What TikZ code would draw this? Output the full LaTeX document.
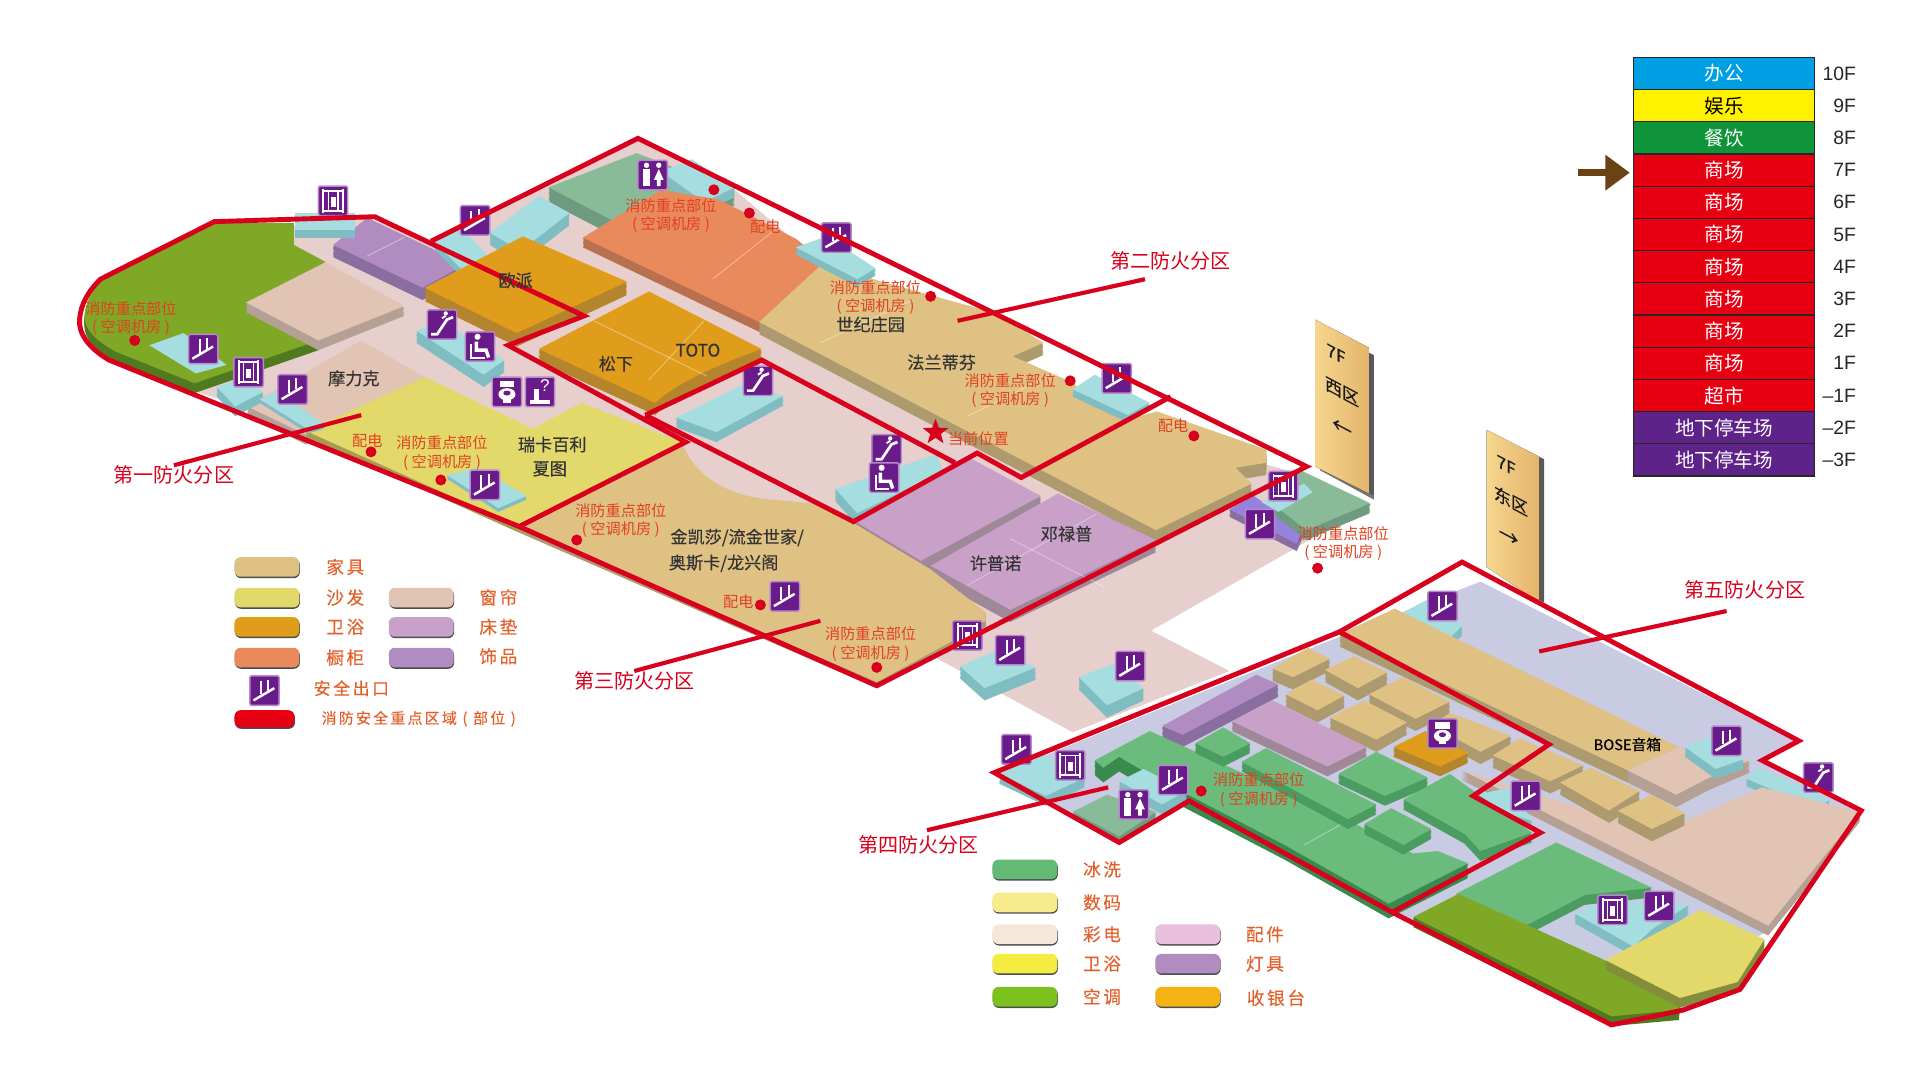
\documentclass[tikz,border=0pt]{standalone}
\usepackage{fontspec}
\setmainfont{Liberation Sans}
\newfontfamily\cjk{Noto Sans CJK SC}
\newfontfamily\cjkbold[FakeBold=0.35]{Noto Sans CJK SC}
\newfontfamily\cjkwide[LetterSpace=15,FakeBold=0.2]{Noto Sans CJK SC}
\usetikzlibrary{shadows,shapes.geometric,arrows.meta}

\definecolor{firered}{HTML}{D8001C}
\definecolor{fireorange}{HTML}{E2401F}
\definecolor{legendorange}{HTML}{E4602B}
\definecolor{floorpink}{HTML}{E7CFCD}
\definecolor{lavender}{HTML}{C9CBE3}
\definecolor{tanwood}{HTML}{E0C184}
\definecolor{tanside}{HTML}{AD9A6F}
\definecolor{sofa}{HTML}{E3D96B}
\definecolor{sofaside}{HTML}{A69B50}
\definecolor{bathorange}{HTML}{E09D1C}
\definecolor{bathside}{HTML}{B5852E}
\definecolor{salmon}{HTML}{E88A5C}
\definecolor{salmonside}{HTML}{B8704F}
\definecolor{pale}{HTML}{E2C4B5}
\definecolor{paleside}{HTML}{B5A095}
\definecolor{mattress}{HTML}{C8A0C8}
\definecolor{matside}{HTML}{9F8898}
\definecolor{ornament}{HTML}{B08CC0}
\definecolor{ornside}{HTML}{8A6EA0}
\definecolor{olive}{HTML}{7FA826}
\definecolor{oliveside}{HTML}{4F7A20}
\definecolor{icecyan}{HTML}{A6DDE0}
\definecolor{cyanside}{HTML}{7FBDC2}
\definecolor{mint}{HTML}{8ABB99}
\definecolor{mintside}{HTML}{6E9B80}
\definecolor{leaf}{HTML}{6ABB7C}
\definecolor{leafside}{HTML}{4A9C60}
\definecolor{leafdark}{HTML}{3A8A50}
\definecolor{iconpurple}{HTML}{6A1B8A}
\definecolor{iconedge}{HTML}{B58AC9}
\definecolor{boardlight}{HTML}{F6D68E}
\definecolor{boarddark}{HTML}{E4B46C}
\definecolor{floorblue}{HTML}{009FE3}
\definecolor{flooryellow}{HTML}{FFF100}
\definecolor{floorgreen}{HTML}{109439}
\definecolor{floorred}{HTML}{E60012}
\definecolor{floorviolet}{HTML}{5E2388}
\definecolor{markerbrown}{HTML}{6B4213}
\definecolor{legwashc}{HTML}{62BA75}
\definecolor{legdigic}{HTML}{F8EB8E}
\definecolor{legtvc}{HTML}{F6E7DB}
\definecolor{legbathc}{HTML}{F4EC40}
\definecolor{legairc}{HTML}{7DC11F}
\definecolor{legpartc}{HTML}{E8BFDC}
\definecolor{legcashc}{HTML}{F4B213}

\tikzset{
  zoneline/.style={draw=firered, line width=2pt, line join=miter},
  leader/.style={draw=firered, line width=1.7pt},
  zonename/.style={font=\cjk\fontsize{8.2}{9}\selectfont, text=firered, inner sep=0pt},
  firelabel/.style={font=\cjk\fontsize{6.2}{7.6}\selectfont, text=fireorange, align=center, inner sep=0pt},
  firedot/.style={circle, fill=firered, minimum size=4.5pt, inner sep=0pt},
  shopname/.style={font=\cjkbold\fontsize{7}{8}\selectfont, text=black!80, inner sep=0pt},
  floorcell/.style={draw=black!85, line width=0.5pt, minimum width=74pt, minimum height=13.15pt,
    inner sep=0pt, font=\cjk\fontsize{8}{9}\selectfont, text=white},
  floorname/.style={anchor=east, inner sep=0pt, font=\fontsize{7.9}{9}\selectfont, text=black!85},
  swatch/.style={rounded corners=2.5pt, minimum width=26.5pt, minimum height=8pt, inner sep=0pt,
    drop shadow={shadow xshift=0.2pt, shadow yshift=-0.6pt, opacity=0.7, fill=black}},
  legendtext/.style={font=\cjkwide\fontsize{7.2}{8}\selectfont, text=legendorange, inner sep=0pt},
  iconbox/.style={draw=iconedge, fill=iconpurple, line width=0.6pt, minimum size=12pt, inner sep=0pt, rounded corners=0.6pt},
  glyph/.style={draw=white, line width=0.8pt},
  divider/.style={draw=white, opacity=0.4, line width=0.35pt},
  signtext/.style={transform shape, font=\cjkbold\fontsize{7}{8}\selectfont, text=black!90, inner sep=0pt},
  signarrow/.style={signtext, font=\cjkbold\fontsize{8}{8}\selectfont}
}

% one block of the floor plan: height, side colour, top colour, outline
\newcommand{\slab}[4]{%
  \foreach \d in {#1,...,1}{\fill[#2, shift={(0,\d)}] #4;}
  \fill[#3] #4;
}
\newcommand{\exitsign}[2]{%
  \node[iconbox] (#1) at (#2) {};
  \begin{scope}[shift={(#2)}]
    \draw[glyph, line width=1pt] (-9,8) -- (8,-2);
    \draw[glyph] (-3,3) -- (-3,-8);
    \draw[glyph] (3,0) -- (3,-9);
  \end{scope}
}
\newcommand{\liftsign}[2]{%
  \node[iconbox] (#1) at (#2) {};
  \begin{scope}[shift={(#2)}]
    \draw[glyph] (-8,-10) -- (-8,10);
    \draw[glyph] (8,-10) -- (8,10);
    \draw[glyph] (-8,-8) -- (8,-8);
    \draw[glyph] (-8,8) -- (8,8);
    \draw[glyph, line width=0.5pt] (-4,-8) -- (-4,8);
    \draw[glyph, line width=0.5pt] (4,-8) -- (4,8);
    \fill[white] (-2,-3) rectangle (2,5);
  \end{scope}
}
\newcommand{\escsign}[2]{%
  \node[iconbox] (#1) at (#2) {};
  \begin{scope}[shift={(#2)}]
    \draw[glyph, line width=1.1pt] (-9,8) -- (-4,8) -- (4,-4) -- (9,-6);
    \fill[white] (3,-9) circle (1.8);
    \draw[glyph] (0,-5) -- (3,-7);
  \end{scope}
}
\newcommand{\restsign}[2]{%
  \node[iconbox] (#1) at (#2) {};
  \begin{scope}[shift={(#2)}]
    \fill[white] (-5,-8) circle (2.2);
    \fill[white] (5,-8) circle (2.2);
    \fill[white] (-8,-5) rectangle (-2,9);
    \fill[white] (5,-5) -- (9,4) -- (6.5,4) -- (6.5,9) -- (3.5,9) -- (3.5,4) -- (1,4) -- cycle;
  \end{scope}
}
\newcommand{\chairsign}[2]{%
  \node[iconbox] (#1) at (#2) {};
  \begin{scope}[shift={(#2)}]
    \fill[white] (-2,-8) circle (2.5);
    \draw[glyph, line width=1.4pt] (-3,-4) -- (-3,3) -- (5,3) -- (7,9);
    \draw[glyph] (-7,-2) -- (-7,9) -- (4,9);
  \end{scope}
}
\newcommand{\toiletsign}[2]{%
  \node[iconbox] (#1) at (#2) {};
  \begin{scope}[shift={(#2)}]
    \fill[white] (-6,-9) rectangle (6,-4);
    \fill[white] (0,2) ellipse (7 and 5);
    \fill[iconpurple] (0,1) ellipse (3 and 2);
    \fill[white] (-3,6) rectangle (3,9);
  \end{scope}
}

\begin{document}
\begin{tikzpicture}[x=0.5pt, y=-0.5pt]
  \useasboundingbox (0,0) rectangle (1568,882);
  \fill[white] (0,0) rectangle (1568,882);

  % Direction boards behind the floors
  \fill[black!65] (1118,288) -- (1122,290) -- (1122,405) -- (1118,403) -- cycle;
  \fill[black!55] (1078,381) -- (1122,405) -- (1122,408) -- (1078,384) -- cycle;
  \fill[left color=boardlight, right color=boarddark] (1074,261) -- (1118,284) -- (1118,403) -- (1074,381) -- cycle;
  \fill[black!65] (1257,373) -- (1261,375) -- (1261,492) -- (1257,490) -- cycle;
  \fill[left color=boardlight, right color=boarddark] (1214,351) -- (1257,373) -- (1257,492) -- (1214,463) -- cycle;

  % West building floor
  \fill[floorpink] (240,185) -- (300,178) -- (352,197) -- (521,115) -- (600,155) -- (700,240) -- (900,345) -- (1000,370) -- (1065,388)
    -- (1120,412) -- (940,515) -- (1004,548) -- (876,598) -- (764,537) -- (716,560) -- (424,430) -- (210,335) -- (160,320) -- (240,250) -- cycle;

  % West building, first zone
  \slab{8}{oliveside}{olive}{(84,228) -- (175,182) -- (240,182) -- (240,200) -- (266,214) -- (201,247) -- (260,278) -- (159,313) -- (94,287) .. controls (77,277) and (69,269) .. (69,258) .. controls (70,246) and (75,237) .. (84,228) -- cycle}
  \slab{8}{paleside}{pale}{(266,214) -- (330,250) -- (260,278) -- (201,247) -- cycle}
  \slab{10}{ornside}{ornament}{(272,200) -- (300,178) -- (380,216) -- (345,235) -- cycle}
  \draw[divider] (300,209) -- (330,194);
  \slab{6}{cyanside}{icecyan}{(241,174) -- (290,174) -- (290,188) -- (241,188) -- cycle}
  \slab{8}{paleside}{pale}{(202,332) -- (295,278) -- (347,308) -- (250,355) -- cycle}
  \slab{5}{sofaside}{sofa}{(424,430) -- (557,361) -- (475,329) -- (435,350) -- (347,308) -- (250,352) -- cycle}
  \fill[icecyan] (122,282) -- (150,272) -- (185,298) -- (160,305) -- cycle;
  \slab{8}{cyanside}{icecyan}{(177,316) -- (197,309) -- (215,320) -- (192,332) -- cycle}
  \slab{3}{cyanside}{icecyan}{(212,326) -- (227,319) -- (265,347) -- (252,351) -- cycle}
  \slab{3}{cyanside}{icecyan}{(365,388) -- (390,382) -- (430,405) -- (407,415) -- cycle}

  % West building, second zone
  \slab{12}{mintside}{mint}{(448,153) -- (520,125) -- (600,156) -- (500,180) -- cycle}
  \slab{8}{cyanside}{icecyan}{(540,140) -- (565,130) -- (600,153) -- (575,165) -- cycle}
  \slab{10}{cyanside}{icecyan}{(400,190) -- (440,160) -- (465,174) -- (425,205) -- cycle}
  \slab{6}{cyanside}{icecyan}{(355,198) -- (375,185) -- (405,215) -- (385,228) -- cycle}
  \slab{8}{salmonside}{salmon}{(476,194) -- (540,155) -- (587,163) -- (650,195) -- (675,215) -- (620,263) -- cycle}
  \draw[divider] (582,228) -- (645,178);
  \slab{10}{tanside}{tanwood}{(620,263) -- (672,215) -- (720,230) -- (814,256) -- (852,280) -- (827,291) -- (875,312) -- (915,342) -- (930,340) -- (945,336) -- (1034,367) -- (1034,378) -- (1009,382) -- (1022,395) -- (944,433) -- cycle}
  \draw[divider] (670,280) -- (745,245);
  \draw[divider] (790,340) -- (860,305);
  \slab{6}{cyanside}{icecyan}{(650,202) -- (675,193) -- (715,219) -- (700,228) -- cycle}
  \slab{6}{cyanside}{icecyan}{(876,318) -- (894,306) -- (939,329) -- (921,339) -- cycle}
  \slab{11}{bathside}{bathorange}{(347,235) -- (427,193) -- (512,230) -- (422,272) -- cycle}
  \slab{10}{bathside}{bathorange}{(440,285) -- (530,238) -- (622,285) .. controls (580,300) and (550,315) .. (535,329) -- cycle}
  \draw[divider] (485,262) -- (577,307);
  \draw[divider] (530,310) -- (575,262);

  % Centre of the west building
  \slab{10}{cyanside}{icecyan}{(340,270) -- (360,262) -- (412,294) -- (395,306) -- cycle}
  \slab{8}{cyanside}{icecyan}{(552,341) -- (605,315) -- (640,323) -- (585,353) -- cycle}
  \slab{10}{cyanside}{icecyan}{(682,399) -- (765,371) -- (770,385) -- (700,419) -- cycle}
  \slab{14}{matside}{mattress}{(697,425) -- (790,373) -- (850,405) -- (752,458) -- cycle}
  \slab{10}{matside}{mattress}{(760,462) -- (864,403) -- (944,441) -- (825,498) -- cycle}
  \draw[divider] (790,478) -- (895,420);
  \draw[divider] (825,440) -- (903,480);

  % West building, third zone and the far end
  \slab{5}{tanside}{tanwood}{(424,430) -- (557,361) .. controls (565,385) and (590,405) .. (630,408) -- (672,412) -- (760,465) -- (805,500) -- (805,507) -- (775,525) -- (716,557) -- cycle}
  \slab{6}{ornside}{ornament!70!blue!80}{(1004,416) -- (1024,405) -- (1064,433) -- (1059,444) -- cycle}
  \slab{8}{mintside}{mint}{(1062,384) -- (1119,411) -- (1067,433) -- (1040,412) -- cycle}
  \fill[icecyan] (1030,410) -- (1065,395) -- (1072,402) -- (1044,418) -- cycle;
  \slab{10}{cyanside}{icecyan}{(784,544) -- (814,531) -- (846,545) -- (804,562) -- cycle}
  \slab{10}{cyanside}{icecyan}{(881,553) -- (909,542) -- (934,562) -- (904,576) -- cycle}

  % East building floor
  \fill[lavender] (1094,520) -- (1209,475) -- (1469,606) -- (1439,621) -- (1516,662) -- (1444,760) -- (1316,835) -- (1137,745) -- (971,656) -- (914,686) -- (816,632) -- cycle;

  % East building, fifth zone
  \slab{8}{cyanside}{icecyan}{(1144,501) -- (1171,487) -- (1194,511) -- (1184,521) -- cycle}
  \slab{10}{tanside}{tanwood}{(1094,518) -- (1139,497) -- (1371,610) -- (1329,629) -- cycle}
  \slab{10}{paleside}{pale}{(1329,629) -- (1371,610) -- (1429,621) -- (1396,635) -- (1369,649) -- cycle}
  \slab{8}{cyanside}{icecyan}{(1376,610) -- (1399,601) -- (1424,620) -- (1401,628) -- cycle}
  \slab{6}{cyanside}{icecyan}{(1426,636) -- (1436,627) -- (1494,653) -- (1484,660) -- cycle}
  \slab{8}{paleside}{pale}{(1194,629) -- (1354,680) -- (1439,643) -- (1519,663) -- (1444,756) -- cycle}
  \slab{6}{cyanside}{icecyan}{(1206,649) -- (1234,643) -- (1251,670) -- (1228,664) -- cycle}
  \slab{8}{leafside}{leaf}{(1189,730) -- (1271,688) -- (1349,725) -- (1294,731) -- (1246,756) -- cycle}
  \slab{8}{cyanside}{icecyan}{(1286,746) -- (1309,736) -- (1379,739) -- (1349,759) -- (1334,773) -- cycle}
  \slab{8}{oliveside}{olive}{(1154,749) -- (1191,730) -- (1372,812) -- (1371,825) -- (1316,830) -- cycle}
  \slab{8}{oliveside!40!sofaside}{sofa}{(1311,784) -- (1389,743) -- (1441,767) -- (1419,802) -- (1372,815) -- cycle}

  % East building, fourth zone
  \slab{10}{tanside}{tanwood}{(1039,546) -- (1068,529) -- (1086,538) -- (1056,553) -- cycle}
  \slab{10}{tanside}{tanwood}{(1082,547) -- (1106,536) -- (1133,549) -- (1109,562) -- cycle}
  \slab{10}{tanside}{tanwood}{(1050,567) -- (1071,555) -- (1098,568) -- (1076,580) -- cycle}
  \slab{10}{tanside}{tanwood}{(1118,567) -- (1146,553) -- (1184,573) -- (1156,587) -- cycle}
  \slab{10}{tanside}{tanwood}{(1086,586) -- (1114,572) -- (1149,590) -- (1124,604) -- cycle}
  \slab{10}{tanside}{tanwood}{(1171,593) -- (1184,582) -- (1234,601) -- (1209,614) -- cycle}
  \slab{10}{tanside}{tanwood}{(1219,617) -- (1241,603) -- (1293,625) -- (1266,638) -- cycle}
  \slab{10}{tanside}{tanwood}{(1274,639) -- (1299,627) -- (1339,646) -- (1314,662) -- cycle}
  \slab{10}{tanside}{tanwood}{(1321,662) -- (1349,649) -- (1376,664) -- (1349,677) -- cycle}
  \slab{10}{ornside}{ornament}{(949,593) -- (1026,551) -- (1044,559) -- (966,600) -- cycle}
  \slab{8}{matside}{mattress}{(1006,589) -- (1039,572) -- (1116,610) -- (1084,626) -- cycle}
  \slab{8}{bathside}{bathorange}{(1138,610) -- (1164,597) -- (1199,615) -- (1176,626) -- cycle}
  \slab{8}{cyanside}{icecyan}{(816,632) -- (849,614) -- (886,635) -- (854,650) -- cycle}
  \slab{12}{leafdark}{leaf}{(894,621) -- (939,597) -- (1109,674) -- (1154,697) -- (1174,695) -- (1199,705) -- (1134,738) -- (1049,690) -- (974,651) -- (949,638) -- (924,624) -- (914,618) -- (901,627) -- cycle}
  \draw[divider] (1065,690) -- (1110,665);
  \slab{8}{leafside}{leaf}{(976,607) -- (999,594) -- (1021,607) -- (999,618) -- cycle}
  \slab{8}{leafside}{leaf}{(1014,622) -- (1034,611) -- (1124,657) -- (1101,669) -- cycle}
  \slab{8}{leafside}{leaf}{(1093,632) -- (1124,614) -- (1166,635) -- (1131,650) -- cycle}
  \slab{8}{leafside}{leaf}{(1114,673) -- (1136,660) -- (1169,677) -- (1146,690) -- cycle}
  \slab{8}{leafside}{leaf}{(1146,653) -- (1184,632) -- (1251,680) -- (1209,695) -- (1196,681) -- cycle}
  \slab{8}{cyanside}{icecyan}{(914,638) -- (934,628) -- (969,646) -- (949,657) -- cycle}
  \slab{6}{mintside}{mint}{(876,663) -- (904,649) -- (944,663) -- (914,683) -- cycle}

  % Safety signs
  \exitsign{exita}{166,285}
  \exitsign{exitb}{239,318}
  \exitsign{exitc}{396,396}
  \exitsign{exitd}{388,180}
  \exitsign{exite}{683,194}
  \exitsign{exitf}{912,309}
  \exitsign{exitg}{641,487}
  \exitsign{exith}{825,531}
  \exitsign{exiti}{923,544}
  \exitsign{exitj}{1029,428}
  \exitsign{exitk}{830,612}
  \exitsign{exitl}{958,637}
  \exitsign{exitm}{1178,495}
  \exitsign{exitn}{1410,605}
  \exitsign{exito}{1246,650}
  \exitsign{exitp}{1355,740}
  \liftsign{lifta}{272,164}
  \liftsign{liftb}{203,304}
  \liftsign{liftc}{1048,397}
  \liftsign{liftd}{790,519}
  \liftsign{lifte}{874,625}
  \liftsign{liftf}{1317,743}
  \escsign{esca}{361,265}
  \escsign{escb}{619,311}
  \escsign{escc}{724,367}
  \escsign{escd}{1485,635}
  \restsign{resta}{533,143}
  \restsign{restb}{926,657}
  \chairsign{chaira}{392,283}
  \chairsign{chairb}{722,390}
  \toiletsign{toileta}{414,320}
  \toiletsign{toiletb}{1178,599}
  \node[iconbox] (infodesk) at (441,320) {};
  \node[font=\fontsize{7}{8}\selectfont, text=white, inner sep=0pt] (infomark) at (445,315) {?};
  \fill[white] (433,327) rectangle (449,330);
  \fill[white] (436,318) rectangle (440,327);

  % Fire zone boundaries
  \draw[zoneline] (175,181) -- (306,177) -- (477,258) -- (415,282) -- (560,361) -- (424,430) -- (89,294) .. controls (72,284) and (64,272) .. (65,261) .. controls (66,248) and (72,238) .. (82,228) -- cycle;
  \draw[zoneline] (352,197) -- (521,113) -- (1067,381) -- (716,560) -- (424,430);
  \draw[zoneline] (527,339) -- (697,426) -- (798,370) -- (834,390) -- (956,324);
  \draw[zoneline] (527,339) -- (622,294) -- (780,378);
  \draw[zoneline] (812,631) -- (1094,516) -- (1265,608) -- (1203,650) -- (1258,680) -- (1137,745) -- (971,654) -- (914,688) -- cycle;
  \draw[zoneline] (1094,516) -- (1194,459) -- (1469,605) -- (1439,621) -- (1520,662) -- (1421,808) -- (1374,825) -- (1316,837) -- (1137,745);

  % Zone names with their leaders
  \node[zonename] (zoneone) at (142,388) {第一防火分区};
  \node[zonename] (zonetwo) at (956,213) {第二防火分区};
  \node[zonename] (zonethree) at (518,556) {第三防火分区};
  \node[zonename] (zonefour) at (750,690) {第四防火分区};
  \node[zonename] (zonefive) at (1425,482) {第五防火分区};
  \coordinate (tipone) at (295,339);
  \coordinate (tiptwo) at (782,262);
  \coordinate (tipthree) at (670,507);
  \coordinate (tipfour) at (905,643);
  \coordinate (tipfive) at (1257,532);
  \draw[leader] (zoneone.north) -- (tipone);
  \draw[leader] (zonetwo.south) ++(-21,7) -- (tiptwo);
  \draw[leader] (zonethree.north) -- (tipthree);
  \draw[leader] (zonefour.north) ++(7,-4) -- (tipfour);
  \draw[leader] (zonefive.south) ++(-15,9) -- (tipfive);

  % Fire key points
  \node[firelabel] (firea) at (107,260) {消防重点部位\\( 空调机房 )};
  \node[firelabel] (fireb) at (548,176) {消防重点部位\\( 空调机房 )};
  \node[firelabel] (firec) at (715,243) {消防重点部位\\( 空调机房 )};
  \node[firelabel] (fired) at (825,319) {消防重点部位\\( 空调机房 )};
  \node[firelabel] (firee) at (361,370) {消防重点部位\\( 空调机房 )};
  \node[firelabel] (firef) at (507,425) {消防重点部位\\( 空调机房 )};
  \node[firelabel] (fireg) at (711,526) {消防重点部位\\( 空调机房 )};
  \node[firelabel] (fireh) at (1097,444) {消防重点部位\\( 空调机房 )};
  \node[firelabel] (firei) at (1028,645) {消防重点部位\\( 空调机房 )};
  \node[firelabel] (powera) at (625,185) {配电};
  \node[firelabel] (powerb) at (300,360) {配电};
  \node[firelabel] (powerc) at (603,491) {配电};
  \node[firelabel] (powerd) at (958,348) {配电};
  \node[firedot] (dota) at (110,278) {};
  \node[firedot] (dotb) at (583,155) {};
  \node[firedot] (dotc) at (760,242) {};
  \node[firedot] (dotd) at (874,311) {};
  \node[firedot] (dote) at (360,392) {};
  \node[firedot] (dotf) at (471,441) {};
  \node[firedot] (dotg) at (716,545) {};
  \node[firedot] (doth) at (1076,464) {};
  \node[firedot] (doti) at (981,646) {};
  \node[firedot] (dotj) at (612,174) {};
  \node[firedot] (dotk) at (303,369) {};
  \node[firedot] (dotl) at (621,494) {};
  \node[firedot] (dotm) at (975,356) {};
  \node[star, star points=5, star point ratio=2.4, fill=firered, minimum size=11pt, inner sep=0pt] (here) at (764,353) {};
  \node[firelabel] (heretext) at (799,358) {当前位置};

  % Shop names
  \node[shopname] (oupai) at (421,229) {欧派};
  \node[shopname] (songxia) at (503,297) {松下};
  \node[shopname] (toto) at (570,286) {TOTO};
  \node[shopname] (shiji) at (711,265) {世纪庄园};
  \node[shopname] (falan) at (769,296) {法兰蒂芬};
  \node[shopname] (moli) at (289,309) {摩力克};
  \node[shopname] (ruika) at (451,363) {瑞卡百利};
  \node[shopname] (xiatu) at (449,383) {夏图};
  \node[shopname] (jinkai) at (602,439) {金凯莎/流金世家/};
  \node[shopname] (aosi) at (591,460) {奥斯卡/龙兴阁};
  \node[shopname] (denglu) at (871,436) {邓禄普};
  \node[shopname] (xupu) at (813,460) {许普诺};
  \node[shopname, font=\cjkbold\fontsize{6}{7}\selectfont, text=black] (bose) at (1329,608) {BOSE音箱};

  % Writing on the direction boards
  \begin{scope}[cm={1,-0.53,0,1,(1091,289)}]
    \node[signtext] (westfloor) at (0,0) {7F};
  \end{scope}
  \begin{scope}[cm={1,-0.53,0,1,(1096,320)}]
    \node[signtext] (westname) at (0,0) {西区};
  \end{scope}
  \begin{scope}[cm={1,-0.53,0,1,(1096,350)}]
    \node[signarrow] (westarrow) at (0,0) {←};
  \end{scope}
  \begin{scope}[cm={1,-0.53,0,1,(1230,380)}]
    \node[signtext] (eastfloor) at (0,0) {7F};
  \end{scope}
  \begin{scope}[cm={1,-0.53,0,1,(1234,409)}]
    \node[signtext] (eastname) at (0,0) {东区};
  \end{scope}
  \begin{scope}[cm={1,-0.53,0,1,(1232,439)}]
    \node[signarrow] (eastarrow) at (0,0) {→};
  \end{scope}

  % Floor directory
  \node[floorcell, fill=floorblue] (cellten) at (1408,60) {办公};
  \node[floorcell, fill=flooryellow, text=black] (cellnine) at (1408,86.3) {娱乐};
  \node[floorcell, fill=floorgreen] (celleight) at (1408,112.6) {餐饮};
  \node[floorcell, fill=floorred] (cellseven) at (1408,138.9) {商场};
  \node[floorcell, fill=floorred] (cellsix) at (1408,165.2) {商场};
  \node[floorcell, fill=floorred] (cellfive) at (1408,191.5) {商场};
  \node[floorcell, fill=floorred] (cellfour) at (1408,217.8) {商场};
  \node[floorcell, fill=floorred] (cellthree) at (1408,244.1) {商场};
  \node[floorcell, fill=floorred] (celltwo) at (1408,270.4) {商场};
  \node[floorcell, fill=floorred] (cellone) at (1408,296.7) {商场};
  \node[floorcell, fill=floorred] (cellbone) at (1408,323) {超市};
  \node[floorcell, fill=floorviolet] (cellbtwo) at (1408,349.3) {地下停车场};
  \node[floorcell, fill=floorviolet] (cellbthree) at (1408,375.6) {地下停车场};
  \node[floorname] (nameten) at (1516,60) {10F};
  \node[floorname] (namenine) at (1516,86.3) {9F};
  \node[floorname] (nameeight) at (1516,112.6) {8F};
  \node[floorname] (nameseven) at (1516,138.9) {7F};
  \node[floorname] (namesix) at (1516,165.2) {6F};
  \node[floorname] (namefive) at (1516,191.5) {5F};
  \node[floorname] (namefour) at (1516,217.8) {4F};
  \node[floorname] (namethree) at (1516,244.1) {3F};
  \node[floorname] (nametwo) at (1516,270.4) {2F};
  \node[floorname] (nameone) at (1516,296.7) {1F};
  \node[floorname] (namebone) at (1516,323) {–1F};
  \node[floorname] (namebtwo) at (1516,349.3) {–2F};
  \node[floorname] (namebthree) at (1516,375.6) {–3F};
  \coordinate (markertail) at (1289,141);
  \coordinate (markerhead) at (1331,141);
  \draw[-{Triangle[length=10pt,width=14pt]}, draw=markerbrown, fill=markerbrown, line width=2.7pt] (markertail) -- (markerhead);

  % Legend of the west building
  \node[swatch, fill=tanwood] (legfurn) at (218,463) {};
  \node[swatch, fill=sofa] (legsofa) at (218,488) {};
  \node[swatch, fill=bathorange] (legbath) at (218,512) {};
  \node[swatch, fill=salmon] (legcab) at (218,537) {};
  \node[swatch, fill=pale] (legcurt) at (344,488) {};
  \node[swatch, fill=mattress] (legmat) at (344,512) {};
  \node[swatch, fill=ornament] (legorn) at (344,537) {};
  \node[legendtext] (txtfurn) at (282,463) {家具};
  \node[legendtext] (txtsofa) at (282,488) {沙发};
  \node[legendtext] (txtbath) at (282,512) {卫浴};
  \node[legendtext] (txtcab) at (282,537) {橱柜};
  \node[legendtext] (txtcurt) at (407,488) {窗帘};
  \node[legendtext] (txtmat) at (407,512) {床垫};
  \node[legendtext] (txtorn) at (407,536) {饰品};
  \exitsign{legexit}{216,564}
  \node[legendtext, font=\cjkwide\fontsize{6.9}{8}\selectfont] (txtexit) at (287,562) {安全出口};
  \node[swatch, fill=floorred, minimum width=24.5pt, minimum height=7pt] (legred) at (216,587) {};
  \node[legendtext, font=\cjkwide\fontsize{6.1}{8}\selectfont] (txtred) at (342,587) {消防安全重点区域 ( 部位 )};

  % Legend of the east building
  \node[swatch, fill=legwashc] (legwash) at (837,710) {};
  \node[swatch, fill=legdigic] (legdigi) at (837,737) {};
  \node[swatch, fill=legtvc] (legtv) at (837,763) {};
  \node[swatch, fill=legbathc] (legbathe) at (837,787) {};
  \node[swatch, fill=legairc] (legair) at (837,814) {};
  \node[swatch, fill=legpartc] (legpart) at (970,763) {};
  \node[swatch, fill=ornament] (leglamp) at (970,787) {};
  \node[swatch, fill=legcashc] (legcash) at (970,814) {};
  \node[legendtext] (txtwash) at (900,710) {冰洗};
  \node[legendtext] (txtdigi) at (900,737) {数码};
  \node[legendtext] (txttv) at (900,763) {彩电};
  \node[legendtext] (txtbathe) at (900,787) {卫浴};
  \node[legendtext] (txtair) at (900,814) {空调};
  \node[legendtext] (txtpart) at (1033,763) {配件};
  \node[legendtext] (txtlamp) at (1033,787) {灯具};
  \node[legendtext] (txtcash) at (1042,815) {收银台};
\end{tikzpicture}
\end{document}
